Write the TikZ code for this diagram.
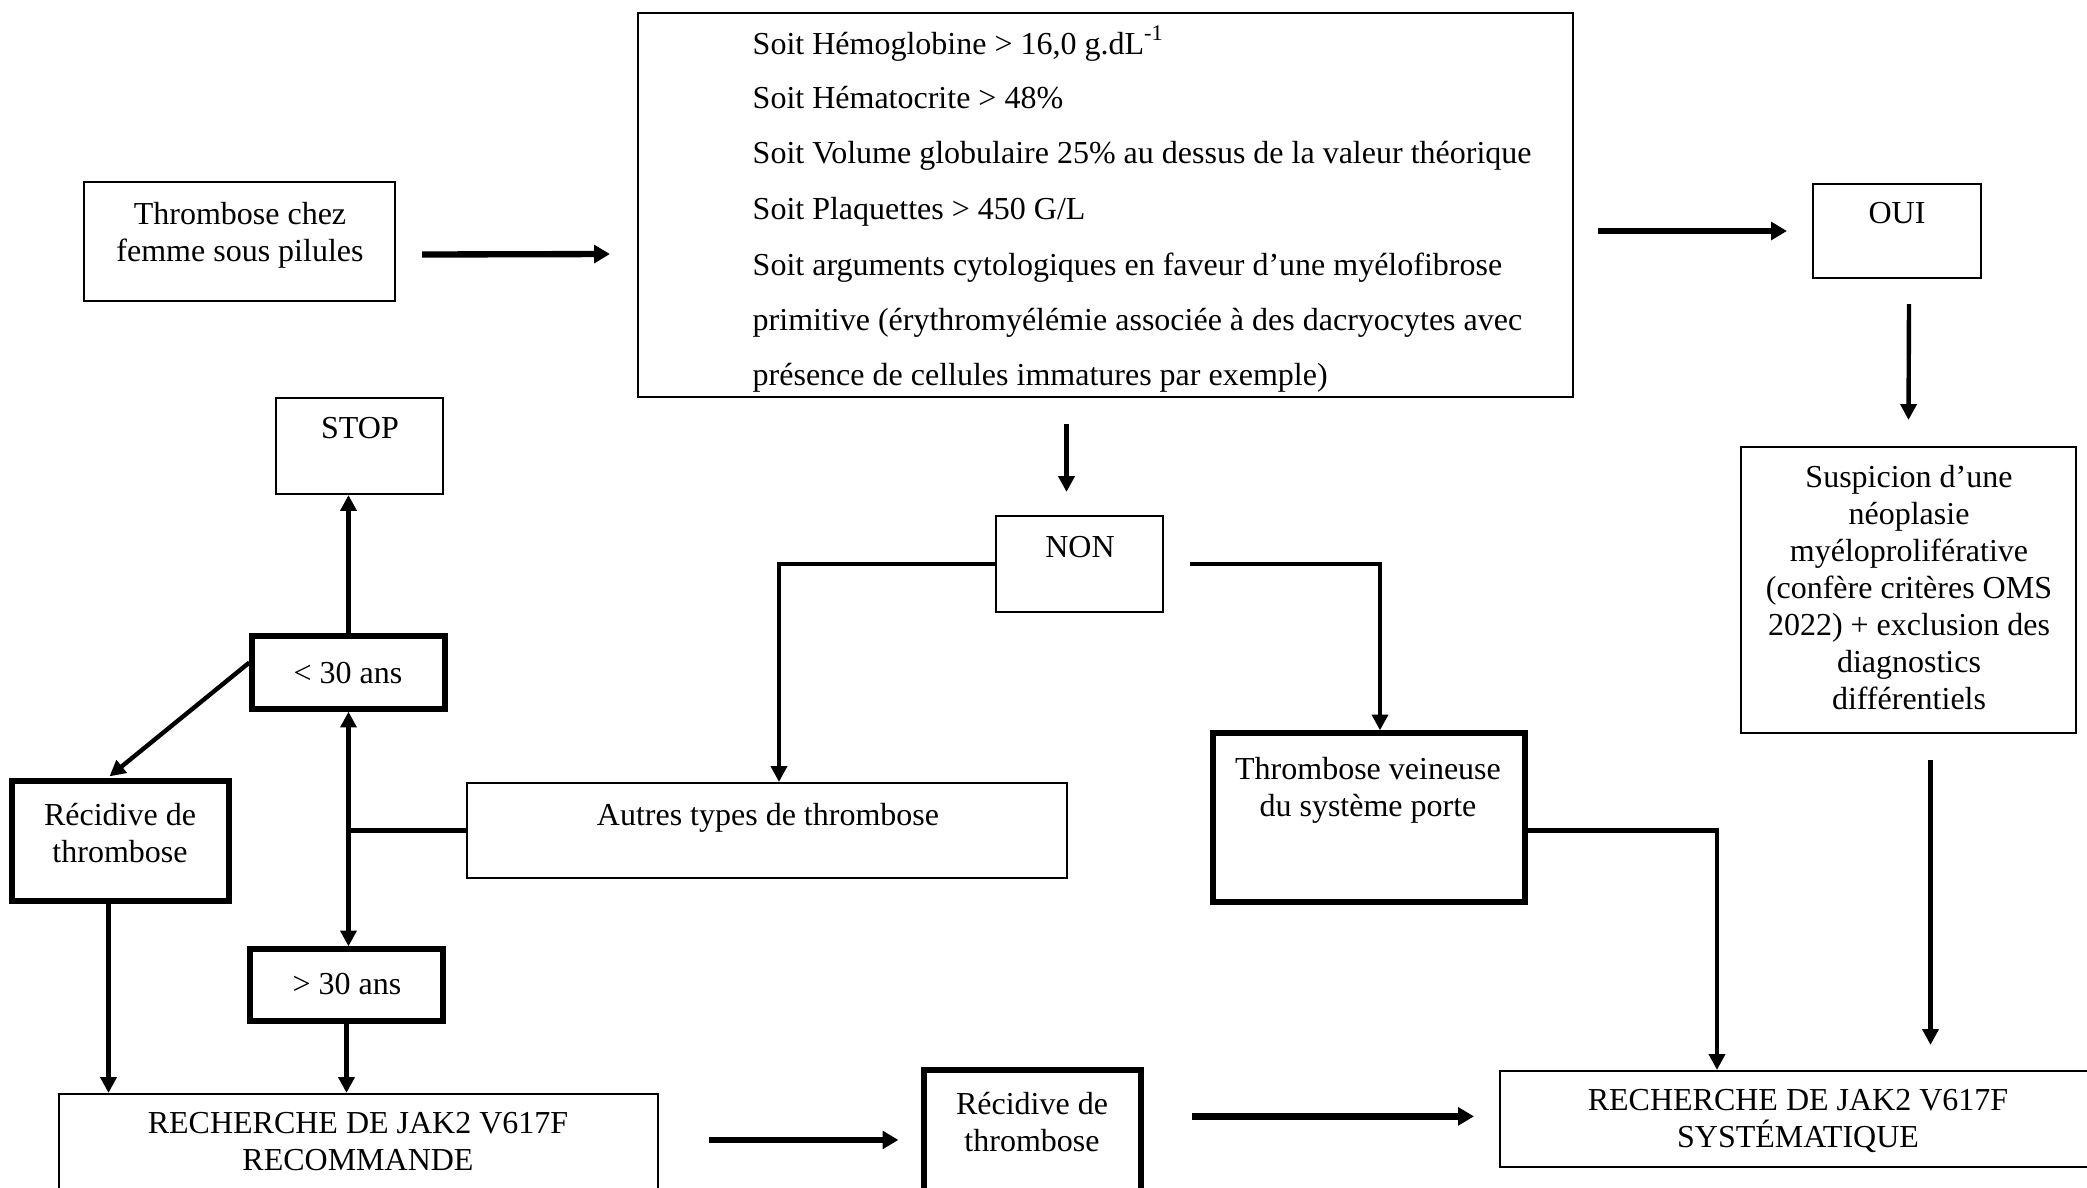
\documentclass[tikz,border=0pt]{standalone}
\usepackage{fontspec}
\setmainfont{Liberation Serif}
\usetikzlibrary{arrows.meta,fit,calc}
\begin{document}
\begin{tikzpicture}[x=0.01cm,y=-0.01cm,
 thinbox/.style={draw, line width=0.6pt, inner sep=0pt},
 thickbox/.style={draw, line width=1.5pt, inner sep=0pt},
 txt/.style={align=center, inner sep=0pt, anchor=north, font=\fontsize{9.1}{10.5}\selectfont},
 ltxt/.style={inner sep=0pt, anchor=base west, font=\fontsize{9.1}{10.5}\selectfont},
 arr/.style={-{Triangle[length=4.5pt,width=4.5pt]}, line width=1.25pt},
 harr/.style={-{Triangle[length=4.5pt,width=5pt]}, line width=1.8pt},
 conn/.style={line width=1.25pt},
 ]
\useasboundingbox (0,0) rectangle (2087,1187);
\clip (0,0) rectangle (2087,1187);

% boxes
\node[thinbox, fit={(84,182) (395,301)}] (thr) {};
\node[txt] (thrt) at (240,202) {Thrombose chez\\femme sous pilules};

\node[thinbox, fit={(638,13) (1573,397)}] (crit) {};
\node[ltxt] (c1) at (752,54) {Soit Hémoglobine > 16,0 g.dL\textsuperscript{-1}};
\node[ltxt] (c2) at (752,108) {Soit Hématocrite > 48\%};
\node[ltxt] (c3) at (752,163) {Soit Volume globulaire 25\% au dessus de la valeur théorique};
\node[ltxt] (c4) at (752,219) {Soit Plaquettes > 450 G/L};
\node[ltxt] (c5) at (752,275) {Soit arguments cytologiques en faveur d’une myélofibrose};
\node[ltxt] (c6) at (752,330) {primitive (érythromyélémie associée à des dacryocytes avec};
\node[ltxt] (c7) at (752,385) {présence de cellules immatures par exemple)};

\node[thinbox, fit={(1813,184) (1981,278)}] (oui) {};
\node[txt] (ouit) at (1897,202) {OUI};

\node[thinbox, fit={(1741,447) (2076,733)}] (susp) {};
\node[txt] (suspt) at (1909,465) {Suspicion d’une\\néoplasie\\myéloproliférative\\(confère critères OMS\\2022) + exclusion des\\diagnostics\\différentiels};

\node[thinbox, fit={(1500,1071) (2092,1167)}] (syst) {};
\node[txt] (systt) at (1798,1089) {RECHERCHE DE JAK2 V617F\\SYSTÉMATIQUE};

\node[thinbox, fit={(996,516) (1163,612)}] (non) {};
\node[txt] (nont) at (1080,536) {NON};

\node[thickbox, fit={(1213,733) (1525,902)}] (tv) {};
\node[txt] (tvt) at (1368,757) {Thrombose veineuse\\du système porte};

\node[thinbox, fit={(467,783) (1067,878)}] (autres) {};
\node[txt] (autrest) at (768,803) {Autres types de thrombose};

\node[thickbox, fit={(252,636) (445,709)}] (lt) {};
\node[txt] (ltt) at (348,661) {< 30 ans};

\node[thinbox, fit={(276,398) (443,494)}] (stop) {};
\node[txt] (stopt) at (360,417) {STOP};

\node[thickbox, fit={(12,781) (229,901)}] (recL) {};
\node[txt] (recLt) at (120,803) {Récidive de\\thrombose};

\node[thickbox, fit={(250,949) (443,1021)}] (gt) {};
\node[txt] (gtt) at (347,972) {> 30 ans};

\node[thinbox, fit={(59,1094) (658,1240)}] (reco) {};
\node[txt] (recot) at (358,1112) {RECHERCHE DE JAK2 V617F\\RECOMMANDE};

\node[thickbox, fit={(924,1070) (1141,1240)}] (rec2) {};
\node[txt] (rec2t) at (1032,1092) {Récidive de\\thrombose};

% connectors
\draw[harr] ($(thr.east)+(26,13)$) -- ($(crit.west)+(-27,49)$);
\coordinate (o1) at ($(oui.west)+(-25,0)$);
\coordinate (o0) at ($(crit.east)+(24,0)$);
\draw[harr] (o0 |- o1) -- (o1);
\draw[arr] ($(oui.south)+(12,25)$) -- ($(susp.north)+(0,-26)$);
\coordinate (a4) at ($(susp.south)+(22,26)$);
\coordinate (a4e) at ($(syst.north)+(0,-25)$);
\draw[arr] (a4) -- (a4 |- a4e);
\draw[arr] ($(crit.south)+(-39,26)$) -- ($(non.north)+(-13,-23)$);
\draw[arr] (non.west) -| ($(autres.north)+(12,0)$);
\draw[arr] ($(non.east)+(26,0)$) -| ($(tv.north)+(11,0)$);
\draw[arr] ($(tv.east)+(0,13)$) -| ($(syst.north)+(-79,0)$);
\coordinate (j) at (autres.west -| lt.south);
\draw[conn] (autres.west) -- (j);
\draw[arr] (j) -- (lt.south);
\draw[arr] (j) -- (j |- gt.north);
\draw[arr] (lt.north) -- (lt.north |- stop.south);
\draw[arr] ($(lt.west)+(0,-10)$) -- ($(recL.north)+(-11,-2)$);
\coordinate (r1) at ($(recL.south)+(-12,0)$);
\draw[arr] (r1) -- (r1 |- reco.north);
\draw[arr] (gt.south) -- (gt.south |- reco.north);
\coordinate (b0) at ($(reco.north east)+(50,47)$);
\coordinate (b1) at ($(rec2.north west)+(-23,0)$);
\draw[harr] (b0) -- (b1 |- b0);
\coordinate (b2) at ($(rec2.north east)+(48,49)$);
\coordinate (b3) at ($(syst.north west)+(-25,48)$);
\draw[harr] (b2) -- (b3 |- b2);
\end{tikzpicture}
\end{document}
